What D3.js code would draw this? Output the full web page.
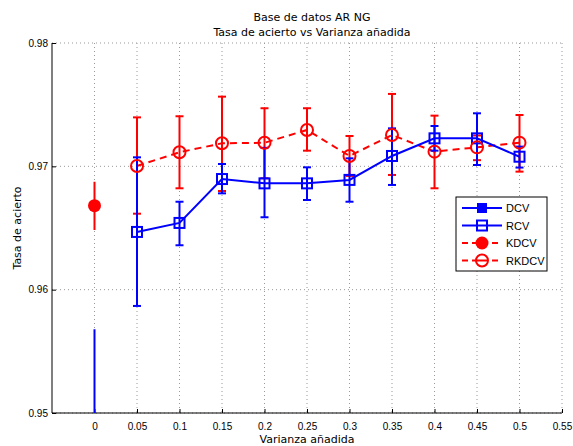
<!DOCTYPE html>
<html><head><meta charset="utf-8">
<script src="https://cdn.jsdelivr.net/npm/d3@7"></script>
<style>body{margin:0;background:#fff}svg{display:block}</style>
</head><body><svg id="c" width="573" height="446"></svg>
<script>
// Data
const xTicks = [0,0.05,0.1,0.15,0.2,0.25,0.3,0.35,0.4,0.45,0.5,0.55];
const yTicks = [0.95,0.96,0.97,0.98];
const xsAll = [0.05,0.1,0.15,0.2,0.25,0.3,0.35,0.4,0.45,0.5];
// DCV (single point at 0, mostly below the visible range)
const dcvX = [0];
const dcvY = [0.940];
const dcvLo = [0.9232];
const dcvHi = [0.9568];
// RCV
const rcvY  = [0.96468,0.96541,0.96897,0.96862,0.96862,0.96890,0.97084,0.97227,0.97227,0.97078];
const rcvLo = [0.95868,0.96360,0.96781,0.96587,0.96727,0.96713,0.96849,0.97127,0.97011,0.96990];
const rcvHi = [0.97073,0.96713,0.97019,0.97150,0.96992,0.97065,0.97308,0.97327,0.97430,0.97160];
// KDCV (single point at 0)
const kdcvX = [0];
const kdcvY = [0.96681];
const kdcvLo = [0.96484];
const kdcvHi = [0.96875];
// RKDCV
const rkY  = [0.97003,0.97114,0.97187,0.97191,0.97295,0.97084,0.97254,0.97119,0.97154,0.97192];
const rkLo = [0.96616,0.96822,0.96800,0.96903,0.97127,0.96922,0.96930,0.96822,0.97050,0.96957];
const rkHi = [0.97397,0.97406,0.97565,0.97471,0.97471,0.97246,0.97587,0.97411,0.97250,0.97416];
const legendLabels = ["DCV","RCV","KDCV","RKDCV"];

const svg = d3.select("#c");
const L=52, R=562, T=43, B=413;
const x = d3.scaleLinear().domain([-0.05,0.55]).range([L,R]);
const y = d3.scaleLinear().domain([0.95,0.98]).range([B,T]);
const font = "'Liberation Sans', Arial, sans-serif";
const tfont = "'DejaVu Sans', sans-serif";

svg.append("defs").append("clipPath").attr("id","clip")
  .append("rect").attr("x",L).attr("y",T).attr("width",R-L).attr("height",B-T);

// grid
const g = svg.append("g");
g.selectAll(".gx").data(xTicks).enter().append("line")
  .attr("x1",d=>x(d)).attr("x2",d=>x(d)).attr("y1",T).attr("y2",B)
  .attr("stroke","#999").attr("stroke-width",1).attr("stroke-dasharray","1,3");
g.selectAll(".gy").data(yTicks).enter().append("line")
  .attr("x1",L).attr("x2",R).attr("y1",d=>y(d)).attr("y2",d=>y(d))
  .attr("stroke","#999").attr("stroke-width",1).attr("stroke-dasharray","1,3");

// axes
const xa = svg.append("g").attr("transform",`translate(0,${B})`)
  .call(d3.axisBottom(x).tickValues(xTicks).tickSize(-4).tickPadding(10).tickFormat(d=>d3.format("")(+d.toFixed(2))));
const ya = svg.append("g").attr("transform",`translate(${L},0)`)
  .call(d3.axisLeft(y).tickValues(yTicks).tickSize(-4).tickPadding(4).tickFormat(d3.format(".2f")));
[xa,ya].forEach(a=>{
  a.select(".domain").attr("stroke","#000").attr("stroke-width",1);
  a.selectAll(".tick line").attr("stroke","#000");
  a.selectAll("text").attr("font-family",font).attr("font-size",10).attr("fill","#000");
});
xa.select(".domain").attr("d",`M${L},0H${R}`);
ya.select(".domain").attr("d",`M0,${B}V${T}`);

const plot = svg.append("g").attr("clip-path","url(#clip)");

function errBars(sel, xs, lo, hi, color, cap){
  const d = xs.map((v,i)=>({x:v,lo:lo[i],hi:hi[i]}));
  sel.selectAll(null).data(d).enter().append("line")
    .attr("x1",d=>x(d.x)).attr("x2",d=>x(d.x)).attr("y1",d=>y(d.lo)).attr("y2",d=>y(d.hi))
    .attr("stroke",color).attr("stroke-width",2);
  if(cap){
    ["lo","hi"].forEach(k=>{
      sel.selectAll(null).data(d).enter().append("line")
        .attr("x1",d=>x(d.x)-4).attr("x2",d=>x(d.x)+4).attr("y1",d=>y(d[k])).attr("y2",d=>y(d[k]))
        .attr("stroke",color).attr("stroke-width",2);
    });
  }
}

// RKDCV
const line = d3.line().x(d=>x(d[0])).y(d=>y(d[1]));
errBars(plot, xsAll, rkLo, rkHi, "#ff0000", true);
plot.append("path").datum(xsAll.map((v,i)=>[v,rkY[i]])).attr("d",line)
  .attr("fill","none").attr("stroke","#ff0000").attr("stroke-width",2).attr("stroke-dasharray","7,5");
// RCV
errBars(plot, xsAll, rcvLo, rcvHi, "#0000ff", true);
plot.append("path").datum(xsAll.map((v,i)=>[v,rcvY[i]])).attr("d",line)
  .attr("fill","none").attr("stroke","#0000ff").attr("stroke-width",2);
plot.selectAll(null).data(xsAll.map((v,i)=>[v,rcvY[i]])).enter().append("rect")
  .attr("x",d=>x(d[0])-5).attr("y",d=>y(d[1])-5).attr("width",10).attr("height",10)
  .attr("fill","none").attr("stroke","#0000ff").attr("stroke-width",2);
plot.selectAll(null).data(xsAll.map((v,i)=>[v,rkY[i]])).enter().append("circle")
  .attr("cx",d=>x(d[0])).attr("cy",d=>y(d[1])).attr("r",6)
  .attr("fill","none").attr("stroke","#ff0000").attr("stroke-width",2);
// DCV
errBars(plot, dcvX, dcvLo, dcvHi, "#0000ff", false);
plot.selectAll(null).data(dcvX.map((v,i)=>[v,dcvY[i]])).enter().append("rect")
  .attr("x",d=>x(d[0])-5).attr("y",d=>y(d[1])-5).attr("width",10).attr("height",10).attr("fill","#0000ff");
// KDCV
errBars(plot, kdcvX, kdcvLo, kdcvHi, "#ff0000", false);
plot.selectAll(null).data(kdcvX.map((v,i)=>[v,kdcvY[i]])).enter().append("circle")
  .attr("cx",d=>x(d[0])).attr("cy",d=>y(d[1])).attr("r",6.5).attr("fill","#ff0000");

// titles
svg.append("text").attr("x",312).attr("y",21).attr("text-anchor","middle")
  .attr("font-family",tfont).attr("font-size",11).text("Base de datos AR NG");
svg.append("text").attr("x",312).attr("y",36).attr("text-anchor","middle")
  .attr("font-family",tfont).attr("font-size",11).text("Tasa de acierto vs Varianza añadida");
svg.append("text").attr("x",307).attr("y",443).attr("text-anchor","middle")
  .attr("font-family",tfont).attr("font-size",11).text("Varianza añadida");
svg.append("text").attr("transform","translate(21,228) rotate(-90)").attr("text-anchor","middle")
  .attr("font-family",tfont).attr("font-size",11).text("Tasa de acierto");

// legend
const lg = svg.append("g").attr("transform","translate(456,197)");
lg.append("rect").attr("x",0).attr("y",0).attr("width",91).attr("height",74)
  .attr("fill","#fff").attr("stroke","#000").attr("stroke-width",1);
const styles = [
  {c:"#0000ff",dash:null,m:"sq",fill:true},
  {c:"#0000ff",dash:null,m:"sq",fill:false},
  {c:"#ff0000",dash:"6,4",m:"ci",fill:true},
  {c:"#ff0000",dash:"6,4",m:"ci",fill:false}];
legendLabels.forEach((lab,i)=>{
  const yy = 11 + i*17.5, s = styles[i];
  lg.append("line").attr("x1",6).attr("x2",46).attr("y1",yy).attr("y2",yy)
    .attr("stroke",s.c).attr("stroke-width",2).attr("stroke-dasharray",s.dash);
  if(s.m==="sq"){
    lg.append("rect").attr("x",21).attr("y",yy-5).attr("width",10).attr("height",10)
      .attr("fill",s.fill?s.c:"#fff").attr("stroke",s.c).attr("stroke-width",s.fill?0:2);
    if(!s.fill) lg.append("line").attr("x1",21).attr("x2",31).attr("y1",yy).attr("y2",yy).attr("stroke",s.c).attr("stroke-width",2);
  } else {
    lg.append("circle").attr("cx",26).attr("cy",yy).attr("r",s.fill?6.5:6)
      .attr("fill",s.fill?s.c:"#fff").attr("stroke",s.fill?"none":s.c).attr("stroke-width",2);
    if(!s.fill) lg.append("line").attr("x1",21).attr("x2",31).attr("y1",yy).attr("y2",yy).attr("stroke",s.c).attr("stroke-width",2);
  }
  lg.append("text").attr("x",50).attr("y",yy+4).attr("font-family",font).attr("font-size",11).text(lab);
});
</script></body></html>
